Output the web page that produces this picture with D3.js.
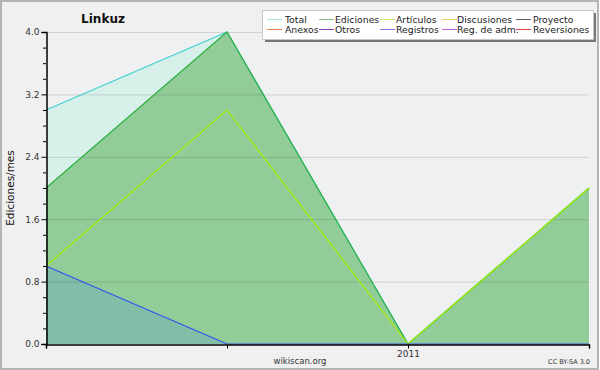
<!DOCTYPE html>
<html><head><meta charset="utf-8">
<script src="https://cdn.jsdelivr.net/npm/d3@7"></script>
<style>body{margin:0;background:#fff}svg{display:block}text{font-family:"DejaVu Sans",sans-serif}</style>
</head><body><svg id="c" width="600" height="370"></svg>
<script>
const months = ["2010-11","2010-12","2011-01","2011-02"];
const xTickLabels = ["","","2011",""];
const total = [3,4,0,2];
const ediciones = [2,4,0,2];
const articulos = [1,3,0,2];
const registros = [1,0,0,0];
const yTicks = [0,0.8,1.6,2.4,3.2,4.0];
const legendNames = ["Total","Ediciones","Artículos","Discusiones","Proyecto","Anexos","Otros","Registros","Reg. de adm.","Reversiones"];
const legendColors = ["#a8e4e0","#80c080","#c8f060","#f0d060","#606060","#f08048","#8040c0","#8080f0","#c060e0","#e04040"];

const svg = d3.select("#c");
svg.append("rect").attr("x",1).attr("y",1).attr("width",597).attr("height",368).attr("fill","#f0f0f0").attr("stroke","#b4b4b4").attr("stroke-width",2);
const x = d3.scaleLinear().domain([0,3]).range([46,589]);
const y = d3.scaleLinear().domain([0,4]).range([344,32]);
svg.append("rect").attr("x",46).attr("y",32).attr("width",543).attr("height",312).attr("fill","#eff0f2");

const area = d3.area().x((d,i)=>x(i)).y0(y(0)).y1(d=>y(d));
const line = d3.line().x((d,i)=>x(i)).y(d=>y(d));
svg.append("path").datum(total).attr("d",area).attr("fill","#d8f0ea");
svg.append("path").datum(ediciones).attr("d",area).attr("fill","#92cc98");
svg.append("path").datum(registros).attr("d",area).attr("fill","#80bea8");
// grid
svg.append("g").selectAll("line").data(yTicks.slice(1)).join("line")
  .attr("x1",46).attr("x2",589).attr("y1",d=>y(d)+0.5).attr("y2",d=>y(d)+0.5)
  .attr("stroke","rgba(0,0,0,0.13)");
svg.append("path").datum(total).attr("d",line).attr("fill","none").attr("stroke","#40d0d0").attr("stroke-width",1.2);
svg.append("path").datum(ediciones).attr("d",line).attr("fill","none").attr("stroke","#30b040").attr("stroke-width",1.2);
svg.append("path").datum(articulos).attr("d",line).attr("fill","none").attr("stroke","#a8f000").attr("stroke-width",1.2);
svg.append("path").datum(registros).attr("d",line).attr("fill","none").attr("stroke","#3050f0").attr("stroke-width",1.2);

// axes
const yAxis = d3.axisLeft(y).tickValues(yTicks).tickFormat(d3.format(".1f")).tickSize(5).tickPadding(2);
const gy = svg.append("g").attr("transform","translate(46.5,0)").call(yAxis);
gy.select(".domain").attr("stroke","#000").attr("stroke-width",1.5);
gy.selectAll(".tick text").attr("font-size",9).attr("fill","#333").attr("font-family","DejaVu Sans");
const minor = d3.range(0,4.01,0.2).filter(v=>Math.abs(v/0.8-Math.round(v/0.8))>0.01);
svg.append("g").selectAll("line").data(minor).join("line")
  .attr("x1",43).attr("x2",46).attr("y1",d=>y(d)+0.5).attr("y2",d=>y(d)+0.5).attr("stroke","#000");
const xAxis = d3.axisBottom(x).tickValues([0,1,2,3]).tickFormat(i=>xTickLabels[i]).tickSize(4).tickPadding(2);
const gx = svg.append("g").attr("transform","translate(0,344.5)").call(xAxis);
gx.select(".domain").attr("stroke","#000").attr("stroke-width",1.5);
gx.selectAll(".tick text").attr("font-size",9).attr("fill","#333").attr("font-family","DejaVu Sans");

// texts
svg.append("text").attr("x",103).attr("y",23).attr("text-anchor","middle").attr("font-size",12).attr("font-weight","bold").attr("fill","#111").text("Linkuz");
svg.append("text").attr("transform","translate(14,188) rotate(-90)").attr("text-anchor","middle").attr("font-size",10.5).attr("fill","#111").text("Ediciones/mes");
svg.append("text").attr("x",300).attr("y",364).attr("text-anchor","middle").attr("font-size",8.5).attr("fill","#333").text("wikiscan.org");
svg.append("text").attr("x",590).attr("y",364).attr("text-anchor","end").attr("font-size",6.5).attr("fill","#333").text("CC BY-SA 3.0");

// legend
svg.append("rect").attr("x",265).attr("y",13).attr("width",331).attr("height",29).attr("fill","#777");
svg.append("rect").attr("x",262.5).attr("y",10.5).attr("width",331).attr("height",29).attr("fill","#fff").attr("stroke","#c8c8c8");
const colX = [[267,285],[319,335],[380,396],[442,457],[516,533]];
legendNames.forEach((n,i)=>{
  const r = Math.floor(i/5), c = i%5;
  const ly = 19.5 + r*10;
  svg.append("line").attr("x1",colX[c][0]).attr("x2",colX[c][0]+15).attr("y1",ly).attr("y2",ly).attr("stroke",legendColors[i]);
  svg.append("text").attr("x",colX[c][1]).attr("y",ly+3.5).attr("font-size",9.3).attr("fill","#222").text(n);
});
</script></body></html>
